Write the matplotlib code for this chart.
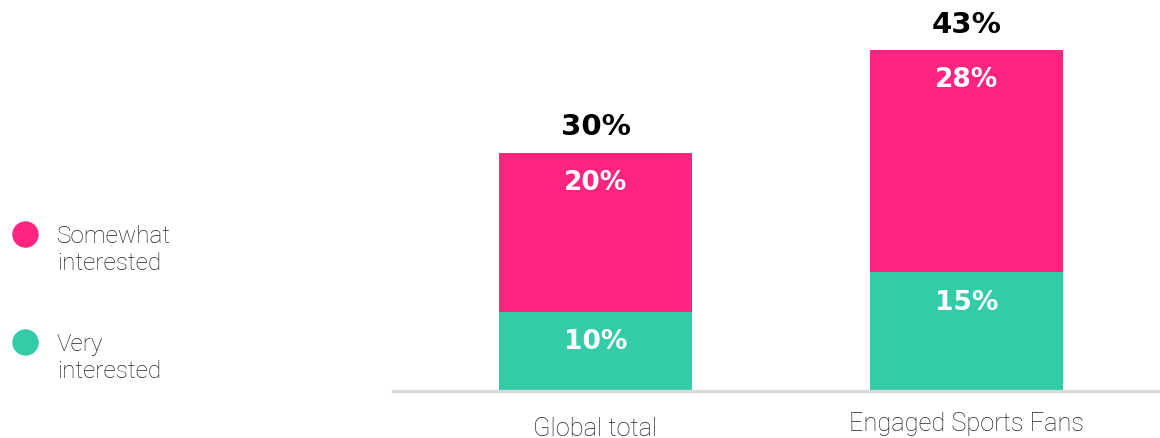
import matplotlib
matplotlib.use("Agg")
import matplotlib.pyplot as plt
from matplotlib.lines import Line2D

categories = ["Global total", "Engaged Sports Fans"]
very = [10, 15]
somewhat = [20, 28]
totals = [30, 43]
series_names = ["Somewhat interested", "Very interested"]
legend_labels = ["Somewhat\ninterested", "Very\ninterested"]

PINK = "#FF2480"
GREEN = "#33CBA8"

fig = plt.figure(figsize=(11.6, 4.39), dpi=100)
ax = fig.add_axes([393/1160, 47/439, 1 - 393/1160, 392/439])

x = [0, 1]
ax.bar(x, very, width=0.52, color=GREEN, zorder=2)
ax.bar(x, somewhat, bottom=very, width=0.52, color=PINK, zorder=2)
ax.set_xlim(-0.546, 1.521)
ax.set_ylim(0, 49.5)

bold = dict(family=["DejaVu Sans"], weight="bold")
for i in x:
    ax.text(i, totals[i] + 3.4, f"{totals[i]}%", ha="center", va="center",
            fontsize=21, color="black", **bold)
    ax.text(i, very[i] + somewhat[i] - 3.6, f"{somewhat[i]}%", ha="center", va="center",
            fontsize=19, color="white", **bold)
    ax.text(i, very[i] - 3.7, f"{very[i]}%", ha="center", va="center",
            fontsize=19, color="white", **bold)

for s in ["top", "right", "left"]:
    ax.spines[s].set_visible(False)
ax.spines["bottom"].set_color("#d9d9d9")
ax.spines["bottom"].set_linewidth(2.4)
ax.set_yticks([])
ax.set_xticks(x)
ax.set_xticklabels([])
ax.tick_params(axis="x", length=0)

light = dict(family=["Roboto", "DejaVu Sans"], weight="light", color="#222222")
offsets = [-37, -32]
for i, lab in enumerate(categories):
    ax.annotate(lab, xy=(i, 0), xycoords="data", xytext=(0, offsets[i]),
                textcoords="offset pixels", ha="center", va="center",
                fontsize=18.3, **light)

# legend
ys = [235, 343]
cols = [PINK, GREEN]
for yy, c, lab in zip(ys, cols, legend_labels):
    fy = 1 - yy / 439
    fig.add_artist(Line2D([25/1160], [fy], marker="o", markersize=18,
                          color=c, linestyle="none", transform=fig.transFigure))
    fig.text(57/1160, 1 - (yy - 10) / 439, lab, ha="left", va="top",
             fontsize=17.5, linespacing=1.25, **light)

fig.savefig("out.png", dpi=100)
